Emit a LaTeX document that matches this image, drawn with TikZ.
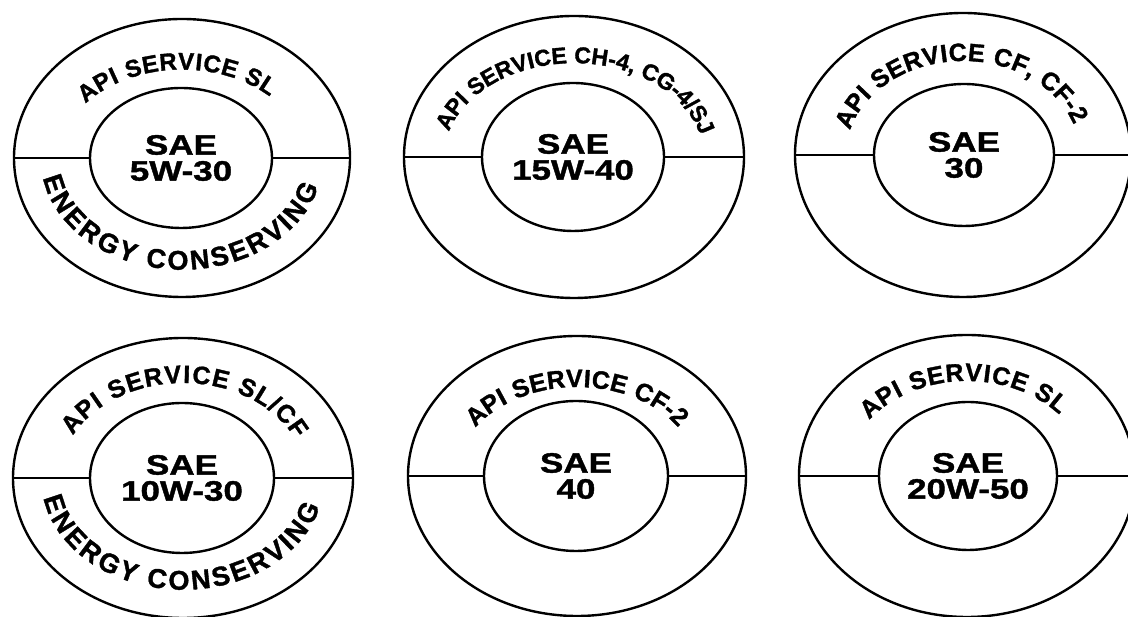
\documentclass[tikz,border=0pt]{standalone}
\usepackage{fontspec}
\newfontfamily\apifont{Liberation Sans}[FakeStretch=1.25,FakeBold=1.4]
\newfontfamily\arcfont{Liberation Sans}[FakeBold=1.4]
\usetikzlibrary{shapes.geometric,decorations.text}
\tikzset{
  ring/.style={ellipse, draw, line width=2.4pt, inner sep=0pt},
  core/.style={ellipse, draw, line width=2.4pt, inner sep=0pt, align=center,
    font=\apifont\bfseries\fontsize{28}{26}\selectfont},
  bar/.style={line width=2.4pt},
  arctext/.style n args={3}{decorate, decoration={text along path,
    text align={fit to path}, raise=#2,
    text={|\arcfont\bfseries\fontsize{#1}{#1}\selectfont|#3}}},
}
\begin{document}
\begin{tikzpicture}[x=1pt,y=1pt]
\useasboundingbox[fill=white] (0,0) rectangle (1128,617);
% ---------- donut 1
\node[ring, minimum width=336pt, minimum height=278pt] (o1) at (182,459) {};
\node[core, minimum width=182pt, minimum height=140pt] (i1) at (181,459) {SAE\\5W-30};
\draw[bar] (o1.west) -- (i1.west);
\draw[bar] (i1.east) -- (o1.east);
\path[arctext={24}{-8.6pt}{API SERVICE SL}] (o1.center) ++(141:131 and 97) arc[start angle=141, end angle=45, x radius=131, y radius=97];
\path[arctext={27}{-9.7pt}{ENERGY CONSERVING}] (o1.center) ++(189.5:131.5 and 102) arc[start angle=189.5, end angle=346, x radius=131.5, y radius=102];
% ---------- donut 2
\node[ring, minimum width=340pt, minimum height=282pt] (o2) at (574,460) {};
\node[core, minimum width=182pt, minimum height=148pt] (i2) at (573,460) {SAE\\15W-40};
\draw[bar] (o2.west) -- (i2.west);
\draw[bar] (i2.east) -- (o2.east);
\path[arctext={23}{-8.2pt}{API SERVICE CH-4, CG-4/SJ}] (o2.center) ++(163.5:138 and 102) arc[start angle=163.5, end angle=14, x radius=138, y radius=102];
% ---------- donut 3
\node[ring, minimum width=336pt, minimum height=284pt] (o3) at (963,462) {};
\node[core, minimum width=180pt, minimum height=142pt] (i3) at (964,462) {SAE\\30};
\draw[bar] (o3.west) -- (i3.west);
\draw[bar] (i3.east) -- (o3.east);
\path[arctext={25}{-9pt}{API SERVICE CF, CF-2}] (o3.center) ++(164:126 and 103) arc[start angle=164, end angle=19.5, x radius=126, y radius=103];
% ---------- donut 4
\node[ring, minimum width=340pt, minimum height=280pt] (o4) at (183,139) {};
\node[core, minimum width=184pt, minimum height=150pt] (i4) at (182,139) {SAE\\10W-30};
\draw[bar] (o4.west) -- (i4.west);
\draw[bar] (i4.east) -- (o4.east);
\path[arctext={25}{-9pt}{API SERVICE SL/CF}] (o4.center) ++(152.5:132 and 104) arc[start angle=152.5, end angle=25, x radius=132, y radius=104];
\path[arctext={27}{-9.7pt}{ENERGY CONSERVING}] (o4.center) ++(189.5:132 and 102) arc[start angle=189.5, end angle=346, x radius=132, y radius=102];
% ---------- donut 5
\node[ring, minimum width=338pt, minimum height=280pt] (o5) at (577,141) {};
\node[core, minimum width=184pt, minimum height=150pt] (i5) at (576,141) {SAE\\40};
\draw[bar] (o5.west) -- (i5.west);
\draw[bar] (i5.east) -- (o5.east);
\path[arctext={25}{-9pt}{API SERVICE CF-2}] (o5.center) ++(146:130 and 98) arc[start angle=146, end angle=34, x radius=130, y radius=98];
% ---------- donut 6
\node[ring, minimum width=336pt, minimum height=282pt] (o6) at (967,141) {};
\node[core, minimum width=178pt, minimum height=148pt] (i6) at (968,141) {SAE\\20W-50};
\draw[bar] (o6.west) -- (i6.west);
\draw[bar] (i6.east) -- (o6.east);
\path[arctext={25}{-9pt}{API SERVICE SL}] (o6.center) ++(143:130 and 104) arc[start angle=143, end angle=41, x radius=130, y radius=104];
\end{tikzpicture}
\end{document}
